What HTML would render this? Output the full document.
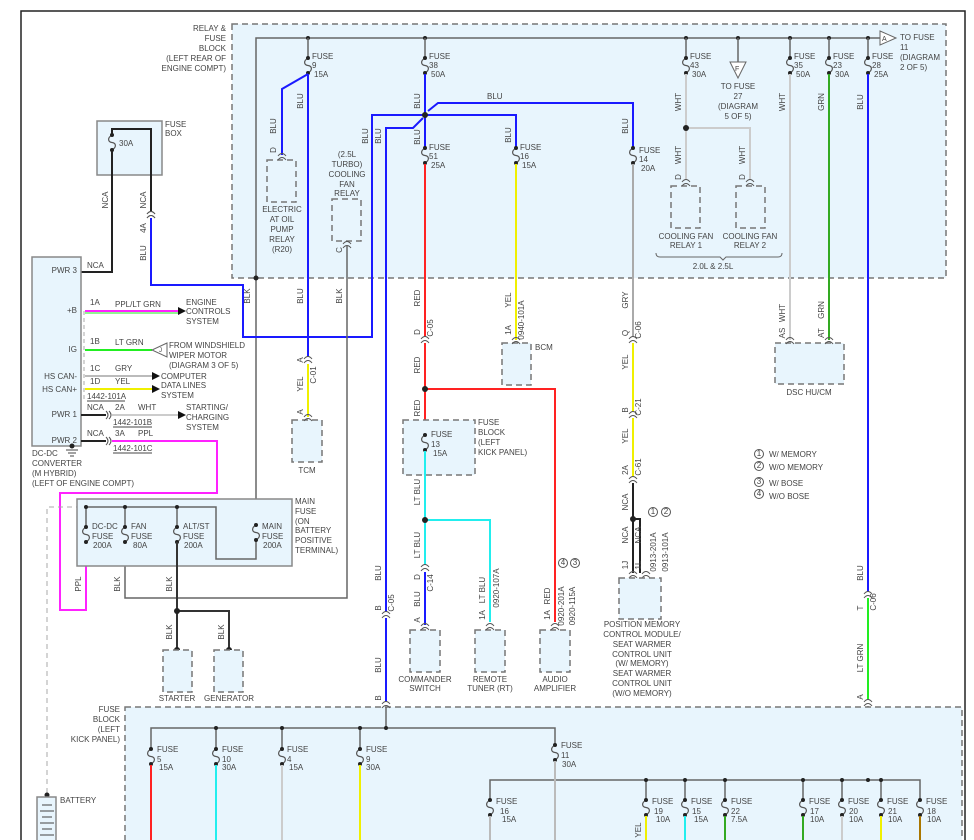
<!DOCTYPE html><html><head><meta charset="utf-8"><style>
body{margin:0;background:#fff}
svg{display:block}
text{font-family:"Liberation Sans",sans-serif;font-size:8px;fill:#444}
.m{text-anchor:middle}.e{text-anchor:end}
.w{fill:none;stroke-width:2}
.g{fill:none;stroke:#666;stroke-width:1.5}
.bx{fill:#e8f5fd;stroke:#888;stroke-width:1.5}
.db{fill:#e8f5fd;stroke:#777;stroke-width:1.5;stroke-dasharray:6,4}
</style></head><body>
<svg width="974" height="840" viewBox="0 0 974 840" xmlns="http://www.w3.org/2000/svg">
<defs>
<g id="f"><path d="M0,0 C-5,3 -4,7 0,7.5 S5,12 0,15" fill="none" stroke="#555" stroke-width="1.2"/><circle cx="0" cy="0" r="2" fill="#222"/><circle cx="0" cy="15" r="2" fill="#222"/></g>
<g id="c"><path d="M-4,-1 Q0,-6 4,-1 M-4,3 Q0,-2 4,3" fill="none" stroke="#555" stroke-width="1"/></g>
</defs>
<rect x="21" y="11" width="944" height="840" fill="none" stroke="#222" stroke-width="1.5"/>
<!-- relay box -->
<rect x="232" y="24" width="714" height="254" class="db"/>
<g class="e"><text x="226" y="31">RELAY &amp;</text><text x="226" y="41">FUSE</text><text x="226" y="51">BLOCK</text><text x="226" y="61">(LEFT REAR OF</text><text x="226" y="71">ENGINE COMPT)</text></g>
<path class="g" d="M256,525 V38 H880"/>
<polygon points="880,31 896,38 880,45" fill="#fff" stroke="#666"/><text x="882" y="41" style="font-size:7px">A</text>
<text x="900" y="40">TO FUSE</text><text x="900" y="50">11</text><text x="900" y="60">(DIAGRAM</text><text x="900" y="70">2 OF 5)</text>
<g fill="#222"><circle cx="308" cy="38" r="2"/><circle cx="425" cy="38" r="2"/><circle cx="686" cy="38" r="2"/><circle cx="738" cy="38" r="2"/><circle cx="790" cy="38" r="2"/><circle cx="829" cy="38" r="2"/><circle cx="868" cy="38" r="2"/><circle cx="256" cy="278" r="2.5"/></g>
<path class="g" d="M308,38V58 M425,38V58 M686,38V58 M790,38V58 M829,38V58 M868,38V58 M738,38V62"/>
<polygon points="730,62 746,62 738,78" fill="#fff" stroke="#666"/><text x="735" y="71" style="font-size:7px">F</text>
<g class="m"><text x="738" y="89">TO FUSE</text><text x="738" y="99">27</text><text x="738" y="109">(DIAGRAM</text><text x="738" y="119">5 OF 5)</text></g>
<use href="#f" x="308" y="58"/><use href="#f" x="425" y="58"/><use href="#f" x="686" y="58"/><use href="#f" x="790" y="58"/><use href="#f" x="829" y="58"/><use href="#f" x="868" y="58"/>
<g><text x="312" y="59">FUSE</text><text x="312" y="68">9</text><text x="314" y="77">15A</text>
<text x="429" y="59">FUSE</text><text x="429" y="68">38</text><text x="431" y="77">50A</text>
<text x="690" y="59">FUSE</text><text x="690" y="68">43</text><text x="692" y="77">30A</text>
<text x="794" y="59">FUSE</text><text x="794" y="68">35</text><text x="796" y="77">50A</text>
<text x="833" y="59">FUSE</text><text x="833" y="68">23</text><text x="835" y="77">30A</text>
<text x="872" y="59">FUSE</text><text x="872" y="68">28</text><text x="874" y="77">25A</text></g>
<!-- blue wires -->
<g class="w" stroke="#1a1aff">
<path d="M308,74 L282,89 V155"/><path d="M308,74 V357"/>
<path d="M425,74 V148"/><path d="M425,115 H372 V337 H243 V285 H151 V218"/>
<path d="M428,111 L438,103 H633 V148"/><path d="M425,115 H516 V148"/>
<path d="M423,118 L413,128 H386 V612 M386,618 V702"/>
<path d="M868,74 V592"/><path d="M425,572 V625"/>
</g>
<circle cx="425" cy="115" r="3" fill="#222"/>
<text x="487" y="99">BLU</text>
<!-- fuse box top left -->
<rect x="97" y="121" width="65" height="54" class="bx"/>
<text x="165" y="127">FUSE</text><text x="165" y="136">BOX</text><text x="119" y="146">30A</text>
<path d="M81,272 H112 V150 M112,135 V129 H151 V212" fill="none" stroke="#222" stroke-width="2"/>
<use href="#f" x="112" y="135"/>
<use href="#c" x="151" y="215"/>
<!-- relays -->
<rect x="267" y="160" width="29" height="42" class="db"/><use href="#c" x="282" y="157"/>
<g class="m"><text x="282" y="212">ELECTRIC</text><text x="282" y="222">AT OIL</text><text x="282" y="232">PUMP</text><text x="282" y="242">RELAY</text><text x="282" y="252">(R20)</text>
<text x="347" y="157">(2.5L</text><text x="347" y="167">TURBO)</text><text x="347" y="177">COOLING</text><text x="347" y="187">FAN</text><text x="347" y="196">RELAY</text></g>
<rect x="332" y="199" width="29" height="42" class="db"/><use href="#c" x="347" y="245"/>
<path class="g" d="M347,245 V598 H125 V542"/>
<!-- fuse 51 / red -->
<use href="#f" x="425" y="148"/><text x="429" y="150">FUSE</text><text x="429" y="159">51</text><text x="431" y="168">25A</text>
<g class="w" stroke="#f22"><path d="M425,164 V337 M425,343 V435"/><path d="M425,389 H555 V622"/></g>
<circle cx="425" cy="389" r="3" fill="#222"/><use href="#c" x="425" y="340"/>
<rect x="403" y="420" width="72" height="55" class="db"/>
<use href="#f" x="425" y="435"/><text x="431" y="437">FUSE</text><text x="431" y="447">13</text><text x="433" y="456">15A</text>
<text x="478" y="425">FUSE</text><text x="478" y="435">BLOCK</text><text x="478" y="445">(LEFT</text><text x="478" y="455">KICK PANEL)</text>
<g class="w" stroke="#2ee"><path d="M425,451 V565"/><path d="M425,520 H490 V622"/></g>
<circle cx="425" cy="520" r="3" fill="#222"/><use href="#c" x="425" y="568"/>
<rect x="410" y="630" width="30" height="42" class="db"/><rect x="475" y="630" width="30" height="42" class="db"/><rect x="540" y="630" width="30" height="42" class="db"/>
<use href="#c" x="425" y="627"/><use href="#c" x="490" y="627"/><use href="#c" x="555" y="627"/>
<g class="m"><text x="425" y="682">COMMANDER</text><text x="425" y="691">SWITCH</text><text x="490" y="682">REMOTE</text><text x="490" y="691">TUNER (RT)</text><text x="555" y="682">AUDIO</text><text x="555" y="691">AMPLIFIER</text></g>
<!-- fuse16 yellow -->
<use href="#f" x="516" y="148"/><text x="520" y="150">FUSE</text><text x="520" y="159">16</text><text x="522" y="168">15A</text>
<path class="w" stroke="#f0f000" d="M516,164 V340"/>
<rect x="502" y="343" width="29" height="42" class="db"/><use href="#c" x="516" y="341"/><text x="535" y="350">BCM</text>
<!-- fuse14 -->
<use href="#f" x="633" y="148"/><text x="639" y="153">FUSE</text><text x="639" y="162">14</text><text x="641" y="171">20A</text>
<path class="w" stroke="#aaa" d="M633,164 V337"/>
<path class="w" stroke="#f0f000" d="M633,343 V412 M633,418 V477"/>
<path d="M633,483 V573 M633,519 H640 V573" fill="none" stroke="#222" stroke-width="2"/>
<circle cx="633" cy="519" r="3" fill="#222"/>
<use href="#c" x="633" y="340"/><use href="#c" x="633" y="415"/><use href="#c" x="633" y="480"/><use href="#c" x="633" y="575"/><use href="#c" x="646" y="575"/>
<rect x="619" y="578" width="42" height="41" class="db"/>
<g class="m"><text x="642" y="627">POSITION MEMORY</text><text x="642" y="637">CONTROL MODULE/</text><text x="642" y="647">SEAT WARMER</text><text x="642" y="657">CONTROL UNIT</text><text x="642" y="666">(W/ MEMORY)</text><text x="642" y="676">SEAT WARMER</text><text x="642" y="686">CONTROL UNIT</text><text x="642" y="696">(W/O MEMORY)</text></g>
<!-- fuse 43 -->
<path class="w" stroke="#ccc" d="M686,74 V180 M686,128 H750 V180"/><circle cx="686" cy="128" r="3" fill="#222"/>
<rect x="671" y="186" width="29" height="42" class="db"/><rect x="736" y="186" width="29" height="42" class="db"/>
<use href="#c" x="686" y="183"/><use href="#c" x="750" y="183"/>
<g class="m"><text x="686" y="239">COOLING FAN</text><text x="686" y="248">RELAY 1</text><text x="750" y="239">COOLING FAN</text><text x="750" y="248">RELAY 2</text><text x="713" y="269">2.0L &amp; 2.5L</text></g>
<path d="M656,253 q0,4 4,4 H720 l3,3 l3,-3 H778 q4,0 4,-4" fill="none" stroke="#666"/>
<path class="w" stroke="#ccc" d="M790,74 V340"/><path class="w" stroke="#3a2" d="M829,74 V340"/>
<rect x="775" y="343" width="69" height="41" class="db"/><use href="#c" x="790" y="341"/><use href="#c" x="829" y="341"/>
<text x="809" y="395" class="m">DSC HU/CM</text>
<path class="w" stroke="#2e2" d="M868,598 V700"/><use href="#c" x="868" y="595"/><use href="#c" x="868" y="703"/>
<path class="g" d="M868,706 V780"/>
<!-- TCM -->
<use href="#c" x="308" y="360"/><path class="w" stroke="#f0f000" d="M308,364 V417"/>
<rect x="292" y="420" width="30" height="42" class="db"/><use href="#c" x="308" y="418"/><text x="307" y="473" class="m">TCM</text>
<!-- legend -->
<g fill="none" stroke="#555"><circle cx="759" cy="454" r="4.5"/><circle cx="759" cy="466" r="4.5"/><circle cx="759" cy="482" r="4.5"/><circle cx="759" cy="494" r="4.5"/><circle cx="653" cy="512" r="4.5"/><circle cx="666" cy="512" r="4.5"/><circle cx="563" cy="563" r="4.5"/><circle cx="575" cy="563" r="4.5"/></g>
<g style="font-size:6px" class="m"><text x="759" y="456">1</text><text x="759" y="468">2</text><text x="759" y="484">3</text><text x="759" y="496">4</text><text x="653" y="514">1</text><text x="666" y="514">2</text><text x="563" y="565">4</text><text x="575" y="565">3</text></g>
<text x="769" y="457">W/ MEMORY</text><text x="769" y="470">W/O MEMORY</text><text x="769" y="486">W/ BOSE</text><text x="769" y="499">W/O BOSE</text>
<!-- DC-DC -->
<rect x="32" y="257" width="49" height="189" class="bx"/>
<g class="e"><text x="77" y="273">PWR 3</text><text x="77" y="313">+B</text><text x="77" y="352">IG</text><text x="77" y="379">HS CAN-</text><text x="77" y="392">HS CAN+</text><text x="77" y="417">PWR 1</text><text x="77" y="443">PWR 2</text></g>
<text x="87" y="268">NCA</text>
<path d="M84,311 V400" stroke="#aaa" stroke-dasharray="4,3" fill="none"/>
<path d="M85,311 H180" stroke="#f2f" stroke-width="2"/><path d="M85,313 H180" stroke="#2e2" stroke-width="1"/>
<polygon points="178,307 186,311 178,315" fill="#111"/>
<text x="90" y="305">1A</text><text x="115" y="307">PPL/LT GRN</text><text x="186" y="305">ENGINE</text><text x="186" y="314">CONTROLS</text><text x="186" y="324">SYSTEM</text>
<path d="M85,350 H152" stroke="#2e2" stroke-width="2"/><polygon points="167,343 152,350 167,357" fill="#fff" stroke="#666"/><text x="159" y="352" style="font-size:6px">J</text>
<text x="90" y="344">1B</text><text x="115" y="345">LT GRN</text><text x="169" y="348">FROM WINDSHIELD</text><text x="169" y="358">WIPER MOTOR</text><text x="169" y="368">(DIAGRAM 3 OF 5)</text>
<path d="M85,376 H152" stroke="#bbb" stroke-width="2"/><path d="M85,389 H152" stroke="#f0f000" stroke-width="2"/>
<polygon points="152,372 160,376 152,380" fill="#111"/><polygon points="152,385 160,389 152,393" fill="#111"/>
<text x="90" y="371">1C</text><text x="115" y="371">GRY</text><text x="90" y="384">1D</text><text x="115" y="384">YEL</text>
<text x="87" y="399">1442-101A</text><path d="M87,401 H125" stroke="#444"/>
<text x="161" y="379">COMPUTER</text><text x="161" y="388">DATA LINES</text><text x="161" y="398">SYSTEM</text>
<path d="M81,415 H106 M81,441 H106" stroke="#222" stroke-width="2"/>
<path d="M112,415 H180" stroke="#ccc" stroke-width="2"/><polygon points="178,411 186,415 178,419" fill="#111"/>
<text x="87" y="410">NCA</text><text x="115" y="410">2A</text><text x="138" y="410">WHT</text><text x="113" y="425">1442-101B</text><path d="M113,427 H152" stroke="#444"/>
<text x="186" y="410">STARTING/</text><text x="186" y="420">CHARGING</text><text x="186" y="430">SYSTEM</text>
<path d="M112,441 H217 V493 H60 V610 H86 V542" fill="none" stroke="#f2f" stroke-width="2"/>
<text x="87" y="436">NCA</text><text x="115" y="436">3A</text><text x="138" y="436">PPL</text><text x="113" y="451">1442-101C</text><path d="M113,453 H152" stroke="#444"/>
<path d="M106,411 q4,4 0,8 M109,411 q4,4 0,8 M106,437 q4,4 0,8 M109,437 q4,4 0,8" fill="none" stroke="#555"/>
<circle cx="72" cy="446" r="2.5" fill="#222"/><path d="M66,450 H78 M68,453 H76 M70,456 H74" stroke="#444"/>
<text x="32" y="456">DC-DC</text><text x="32" y="466">CONVERTER</text><text x="32" y="476">(M HYBRID)</text><text x="32" y="486">(LEFT OF ENGINE COMPT)</text>
<path d="M47,793 V507 H77" fill="none" stroke="#aaa" stroke-dasharray="5,4"/>
<!-- main fuse -->
<rect x="77" y="499" width="215" height="67" class="bx"/>
<path class="g" d="M86,527 V507 H216 V559 H256 V541 M125,507 V527 M177,507 V527"/>
<g fill="#222"><circle cx="86" cy="507" r="2"/><circle cx="125" cy="507" r="2"/><circle cx="177" cy="507" r="2"/></g>
<use href="#f" x="86" y="527"/><use href="#f" x="125" y="527"/><use href="#f" x="177" y="527"/><use href="#f" x="256" y="525"/>
<text x="92" y="529">DC-DC</text><text x="92" y="539">FUSE</text><text x="93" y="548">200A</text>
<text x="131" y="529">FAN</text><text x="131" y="539">FUSE</text><text x="133" y="548">80A</text>
<text x="183" y="529">ALT/ST</text><text x="183" y="539">FUSE</text><text x="184" y="548">200A</text>
<text x="262" y="529">MAIN</text><text x="262" y="539">FUSE</text><text x="263" y="548">200A</text>
<text x="295" y="504">MAIN</text><text x="295" y="514">FUSE</text><text x="295" y="524">(ON</text><text x="295" y="533">BATTERY</text><text x="295" y="543">POSITIVE</text><text x="295" y="553">TERMINAL)</text>
<path d="M177,542 V650 M177,611 H229 V650" fill="none" stroke="#333" stroke-width="2"/>
<g fill="#222"><circle cx="177" cy="611" r="3"/><circle cx="177" cy="650" r="3"/><circle cx="229" cy="650" r="3"/></g>
<rect x="163" y="650" width="29" height="42" class="db"/><rect x="214" y="650" width="29" height="42" class="db"/>
<text x="177" y="701" class="m">STARTER</text><text x="229" y="701" class="m">GENERATOR</text>
<!-- battery -->
<circle cx="47" cy="795" r="2.5" fill="#222"/><rect x="37" y="797" width="19" height="45" class="bx"/>
<path d="M42,805 H52 M40,811 H54 M42,817 H52 M40,823 H54 M42,829 H52 M40,835 H54" stroke="#444"/>
<text x="60" y="803">BATTERY</text>
<!-- lower fuse block -->
<rect x="125" y="707" width="837" height="140" class="db"/>
<g class="e"><text x="120" y="712">FUSE</text><text x="120" y="722">BLOCK</text><text x="120" y="732">(LEFT</text><text x="120" y="742">KICK PANEL)</text></g>
<use href="#c" x="386" y="705"/><use href="#c" x="386" y="615"/><use href="#c" x="151" y="215"/>
<path class="g" d="M151,749 V728 H555 V745 M216,728V749 M282,728V749 M360,728V749 M386,707V728"/>
<path class="g" d="M490,800 V780 H920 V800 M646,780V800 M685,780V800 M725,780V800 M803,780V800 M842,780V800 M881,780V800"/>
<g fill="#222"><circle cx="216" cy="728" r="2"/><circle cx="282" cy="728" r="2"/><circle cx="360" cy="728" r="2"/><circle cx="386" cy="728" r="2"/><circle cx="646" cy="780" r="2"/><circle cx="685" cy="780" r="2"/><circle cx="725" cy="780" r="2"/><circle cx="803" cy="780" r="2"/><circle cx="842" cy="780" r="2"/><circle cx="868" cy="780" r="2"/><circle cx="881" cy="780" r="2"/></g>
<use href="#f" x="151" y="749"/><use href="#f" x="216" y="749"/><use href="#f" x="282" y="749"/><use href="#f" x="360" y="749"/><use href="#f" x="555" y="745"/>
<use href="#f" x="490" y="800"/><use href="#f" x="646" y="800"/><use href="#f" x="685" y="800"/><use href="#f" x="725" y="800"/><use href="#f" x="803" y="800"/><use href="#f" x="842" y="800"/><use href="#f" x="881" y="800"/><use href="#f" x="920" y="800"/>
<text x="157" y="752">FUSE</text><text x="157" y="762">5</text><text x="159" y="770">15A</text>
<text x="222" y="752">FUSE</text><text x="222" y="762">10</text><text x="222" y="770">30A</text>
<text x="287" y="752">FUSE</text><text x="287" y="762">4</text><text x="289" y="770">15A</text>
<text x="366" y="752">FUSE</text><text x="366" y="762">9</text><text x="366" y="770">30A</text>
<text x="561" y="748">FUSE</text><text x="561" y="758">11</text><text x="562" y="767">30A</text>
<g><text x="496" y="804">FUSE</text><text x="500" y="814">16</text><text x="502" y="822">15A</text>
<text x="652" y="804">FUSE</text><text x="654" y="814">19</text><text x="656" y="822">10A</text>
<text x="691" y="804">FUSE</text><text x="692" y="814">15</text><text x="694" y="822">15A</text>
<text x="731" y="804">FUSE</text><text x="731" y="814">22</text><text x="731" y="822">7.5A</text>
<text x="809" y="804">FUSE</text><text x="810" y="814">17</text><text x="810" y="822">10A</text>
<text x="848" y="804">FUSE</text><text x="849" y="814">20</text><text x="849" y="822">10A</text>
<text x="887" y="804">FUSE</text><text x="888" y="814">21</text><text x="888" y="822">10A</text>
<text x="926" y="804">FUSE</text><text x="927" y="814">18</text><text x="927" y="822">10A</text></g>
<g stroke-width="2" fill="none"><path stroke="#f22" d="M151,765V840"/><path stroke="#2ee" d="M216,765V840"/><path stroke="#ccc" d="M282,765V840"/><path stroke="#f0f000" d="M360,765V840"/><path stroke="#bbb" d="M555,761V840"/><path stroke="#bbb" d="M490,816V840"/><path stroke="#f0f000" d="M646,816V840"/><path stroke="#2ee" d="M685,816V840"/><path stroke="#3a2" d="M725,816V840"/><path stroke="#3a2" d="M803,816V840"/><path stroke="#ccc" d="M842,816V840"/><path stroke="#f0f000" d="M881,816V840"/><path stroke="#a70" d="M920,816V840"/></g>
<!-- vertical wire labels -->
<g class="m">
<text transform="translate(108,200) rotate(-90)">NCA</text><text transform="translate(146,200) rotate(-90)">NCA</text><text transform="translate(146,228) rotate(-90)">4A</text><text transform="translate(146,253) rotate(-90)">BLU</text>
<text transform="translate(276,126) rotate(-90)">BLU</text><text transform="translate(276,150) rotate(-90)">D</text><text transform="translate(303,101) rotate(-90)">BLU</text>
<text transform="translate(368,136) rotate(-90)">BLU</text><text transform="translate(381,136) rotate(-90)">BLU</text>
<text transform="translate(420,101) rotate(-90)">BLU</text><text transform="translate(420,137) rotate(-90)">BLU</text>
<text transform="translate(342,250) rotate(-90)">C</text>
<text transform="translate(250,296) rotate(-90)">BLK</text><text transform="translate(303,296) rotate(-90)">BLU</text><text transform="translate(342,296) rotate(-90)">BLK</text>
<text transform="translate(303,384) rotate(-90)">YEL</text><text transform="translate(303,360) rotate(-90)">A</text><text transform="translate(316,375) rotate(-90)">C-01</text><text transform="translate(303,412) rotate(-90)">A</text>
<text transform="translate(420,298) rotate(-90)">RED</text><text transform="translate(420,332) rotate(-90)">D</text><text transform="translate(433,328) rotate(-90)">C-05</text>
<text transform="translate(420,365) rotate(-90)">RED</text><text transform="translate(420,408) rotate(-90)">RED</text>
<text transform="translate(420,492) rotate(-90)">LT BLU</text><text transform="translate(420,545) rotate(-90)">LT BLU</text><text transform="translate(420,577) rotate(-90)">D</text><text transform="translate(433,583) rotate(-90)">C-14</text><text transform="translate(420,599) rotate(-90)">BLU</text><text transform="translate(420,620) rotate(-90)">A</text>
<text transform="translate(381,573) rotate(-90)">BLU</text><text transform="translate(381,608) rotate(-90)">B</text><text transform="translate(394,603) rotate(-90)">C-05</text><text transform="translate(381,665) rotate(-90)">BLU</text><text transform="translate(381,698) rotate(-90)">B</text>
<text transform="translate(485,615) rotate(-90)">1A</text><text transform="translate(485,590) rotate(-90)">LT BLU</text><text transform="translate(499,588) rotate(-90)">0920-107A</text>
<text transform="translate(550,615) rotate(-90)">1A</text><text transform="translate(550,596) rotate(-90)">RED</text><text transform="translate(564,606) rotate(-90)">0920-201A</text><text transform="translate(575,606) rotate(-90)">0920-115A</text>
<text transform="translate(511,135) rotate(-90)">BLU</text><text transform="translate(511,300) rotate(-90)">YEL</text><text transform="translate(511,330) rotate(-90)">1A</text><text transform="translate(524,320) rotate(-90)">0940-101A</text>
<text transform="translate(628,126) rotate(-90)">BLU</text><text transform="translate(628,300) rotate(-90)">GRY</text><text transform="translate(628,333) rotate(-90)">Q</text><text transform="translate(641,330) rotate(-90)">C-06</text>
<text transform="translate(628,362) rotate(-90)">YEL</text><text transform="translate(628,410) rotate(-90)">B</text><text transform="translate(641,407) rotate(-90)">C-21</text><text transform="translate(628,436) rotate(-90)">YEL</text>
<text transform="translate(628,470) rotate(-90)">2A</text><text transform="translate(641,467) rotate(-90)">C-61</text><text transform="translate(628,502) rotate(-90)">NCA</text>
<text transform="translate(628,535) rotate(-90)">NCA</text><text transform="translate(641,535) rotate(-90)">NCA</text><text transform="translate(628,565) rotate(-90)">1J</text><text transform="translate(641,565) rotate(-90)">1L</text>
<text transform="translate(656,552) rotate(-90)">0913-201A</text><text transform="translate(668,552) rotate(-90)">0913-101A</text>
<text transform="translate(681,102) rotate(-90)">WHT</text><text transform="translate(681,155) rotate(-90)">WHT</text><text transform="translate(681,177) rotate(-90)">D</text><text transform="translate(745,155) rotate(-90)">WHT</text><text transform="translate(745,177) rotate(-90)">D</text>
<text transform="translate(785,102) rotate(-90)">WHT</text><text transform="translate(824,102) rotate(-90)">GRN</text><text transform="translate(863,102) rotate(-90)">BLU</text>
<text transform="translate(785,313) rotate(-90)">WHT</text><text transform="translate(785,333) rotate(-90)">AS</text><text transform="translate(824,310) rotate(-90)">GRN</text><text transform="translate(824,333) rotate(-90)">AT</text>
<text transform="translate(863,573) rotate(-90)">BLU</text><text transform="translate(863,608) rotate(-90)">T</text><text transform="translate(876,602) rotate(-90)">C-06</text><text transform="translate(863,658) rotate(-90)">LT GRN</text><text transform="translate(863,697) rotate(-90)">A</text>
<text transform="translate(81,584) rotate(-90)">PPL</text><text transform="translate(120,584) rotate(-90)">BLK</text><text transform="translate(172,584) rotate(-90)">BLK</text>
<text transform="translate(172,632) rotate(-90)">BLK</text><text transform="translate(224,632) rotate(-90)">BLK</text>
<text transform="translate(641,830) rotate(-90)">YEL</text>
</g>
</svg>
</body></html>
